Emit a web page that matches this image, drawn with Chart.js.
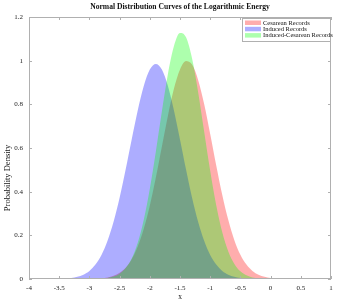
<!DOCTYPE html>
<html>
<head>
<meta charset="utf-8">
<script src="https://cdn.jsdelivr.net/npm/chart.js@4"></script>
<style>
  html, body { margin: 0; padding: 0; background: #fff; }
  #wrap { width: 341px; height: 302px; }
</style>
</head>
<body>
<div id="wrap"><canvas id="chart"></canvas></div>
<script>
// x grid of the curves, -4 .. 1 every 0.1
const xValues = [
  -4.0, -3.9, -3.8, -3.7, -3.6, -3.5, -3.4, -3.3, -3.2, -3.1,
  -3.0, -2.9, -2.8, -2.7, -2.6, -2.5, -2.4, -2.3, -2.2, -2.1,
  -2.0, -1.9, -1.8, -1.7, -1.6, -1.5, -1.4, -1.3, -1.2, -1.1,
  -1.0, -0.9, -0.8, -0.7, -0.6, -0.5, -0.4, -0.3, -0.2, -0.1,
   0.0,  0.1,  0.2,  0.3,  0.4,  0.5,  0.6,  0.7,  0.8,  0.9, 1.0
];

const cesarean = [
  0, 0, 0, 0, 0, 0, 0, 0, 0, 0,
  0, 0.001, 0.003, 0.007, 0.015, 0.029, 0.052, 0.091, 0.149, 0.230,
  0.336, 0.465, 0.607, 0.748, 0.872, 0.960, 0.999, 0.982, 0.912, 0.801,
  0.664, 0.520, 0.385, 0.270, 0.178, 0.111, 0.066, 0.037, 0.019, 0.010,
  0.005, 0.002, 0.001, 0, 0, 0, 0, 0, 0, 0, 0
];

const induced = [
  0, 0, 0, 0, 0, 0.001, 0.002, 0.005, 0.010, 0.020,
  0.037, 0.066, 0.110, 0.175, 0.262, 0.372, 0.501, 0.639, 0.772, 0.884,
  0.959, 0.985, 0.959, 0.884, 0.772, 0.639, 0.501, 0.372, 0.262, 0.175,
  0.110, 0.066, 0.037, 0.020, 0.010, 0.005, 0.002, 0.001, 0, 0,
  0, 0, 0, 0, 0, 0, 0, 0, 0, 0, 0
];

const inducedCesarean = [
  0, 0, 0, 0, 0, 0, 0, 0, 0, 0,
  0, 0.001, 0.002, 0.005, 0.011, 0.024, 0.050, 0.094, 0.166, 0.271,
  0.413, 0.584, 0.768, 0.939, 1.067, 1.127, 1.107, 1.010, 0.857, 0.676,
  0.496, 0.338, 0.214, 0.126, 0.069, 0.035, 0.017, 0.007, 0.003, 0.001,
  0, 0, 0, 0, 0, 0, 0, 0, 0, 0, 0
];

const seriesLabels = ['Cesarean Records', 'Induced Records', 'Induced-Cesarean Records'];
const xTicks = [-4, -3.5, -3, -2.5, -2, -1.5, -1, -0.5, 0, 0.5, 1];
const yTicks = [0, 0.2, 0.4, 0.6, 0.8, 1, 1.2];

const serif = "'Liberation Serif', 'Times New Roman', serif";
const fills = ['rgba(255,0,0,0.32)', 'rgba(0,0,255,0.32)', 'rgba(0,255,0,0.32)'];

const toPoints = ys => xValues.map((x, i) => ({ x: x, y: ys[i] }));
const fmt = v => String(Math.round(v * 10) / 10);

function area(label, ys, color, order) {
  return {
    label: label,
    data: toPoints(ys),
    backgroundColor: color,
    borderWidth: 0,
    borderColor: 'rgba(0,0,0,0)',
    pointRadius: 0,
    fill: 'origin',
    cubicInterpolationMode: 'monotone',
    order: order
  };
}

// box, inward ticks, title, axis titles and legend drawn the MATLAB way
const decor = {
  id: 'decor',
  afterDraw(chart) {
    const { ctx, chartArea: a, scales: { x, y } } = chart;
    ctx.save();
    ctx.strokeStyle = '#b0b0b0';
    ctx.lineWidth = 1;
    ctx.strokeRect(a.left + 0.5, a.top + 0.5, a.right - a.left - 1, a.bottom - a.top - 1);
    ctx.beginPath();
    xTicks.forEach(v => {
      const px = Math.round(x.getPixelForValue(v)) + 0.5;
      ctx.moveTo(px, a.bottom); ctx.lineTo(px, a.bottom - 3);
      ctx.moveTo(px, a.top); ctx.lineTo(px, a.top + 3);
    });
    yTicks.forEach(v => {
      const py = Math.round(y.getPixelForValue(v)) + 0.5;
      ctx.moveTo(a.left, py); ctx.lineTo(a.left + 3, py);
      ctx.moveTo(a.right, py); ctx.lineTo(a.right - 3, py);
    });
    ctx.stroke();

    ctx.fillStyle = '#111';
    ctx.textAlign = 'center';
    ctx.textBaseline = 'middle';
    ctx.font = 'bold 7.6px ' + serif;
    ctx.fillText('Normal Distribution Curves of the Logarithmic Energy', (a.left + a.right) / 2, 7);
    ctx.font = '7.5px ' + serif;
    ctx.fillText('x', (a.left + a.right) / 2, 297);
    ctx.save();
    ctx.translate(8, 178);
    ctx.rotate(-Math.PI / 2);
    ctx.font = '8.5px ' + serif;
    ctx.fillText('Probability Density', 0, 0);
    ctx.restore();

    // legend box
    const lx = 242, ly = 18, lw = 88, lh = 23;
    ctx.fillStyle = '#fff';
    ctx.fillRect(lx, ly, lw, lh);
    ctx.strokeStyle = '#b0b0b0';
    ctx.strokeRect(lx + 0.5, ly + 0.5, lw, lh);
    ctx.font = '6.5px ' + serif;
    ctx.textAlign = 'left';
    seriesLabels.forEach((s, i) => {
      const ry = ly + 4.5 + i * 6.3;
      ctx.fillStyle = fills[i];
      ctx.fillRect(lx + 3, ry - 2, 16, 4.5);
      ctx.fillStyle = '#111';
      ctx.fillText(s, lx + 21, ry + 0.3);
    });
    ctx.restore();
  }
};

new Chart(document.getElementById('chart'), {
  type: 'line',
  data: {
    datasets: [
      area(seriesLabels[0], cesarean, fills[0], 3),
      area(seriesLabels[1], induced, fills[1], 2),
      area(seriesLabels[2], inducedCesarean, fills[2], 1)
    ]
  },
  options: {
    responsive: true,
    maintainAspectRatio: false,
    animation: false,
    layout: { padding: { top: 17, right: 10, left: 0, bottom: 0 } },
    plugins: {
      legend: { display: false },
      tooltip: { enabled: false },
      title: { display: false }
    },
    scales: {
      x: {
        type: 'linear',
        min: -4,
        max: 1,
        afterBuildTicks: s => { s.ticks = xTicks.map(v => ({ value: v })); },
        afterFit: s => { s.height = 23; },
        grid: { display: false, drawTicks: false },
        border: { display: false },
        ticks: { color: '#222', font: { family: serif, size: 7 }, padding: 5, maxRotation: 0, callback: fmt }
      },
      y: {
        min: 0,
        max: 1.2,
        afterBuildTicks: s => { s.ticks = yTicks.map(v => ({ value: v })); },
        afterFit: s => { s.width = 29; },
        grid: { display: false, drawTicks: false },
        border: { display: false },
        ticks: { color: '#222', font: { family: serif, size: 7 }, padding: 6, callback: fmt }
      }
    }
  },
  plugins: [decor]
});
</script>
</body>
</html>
